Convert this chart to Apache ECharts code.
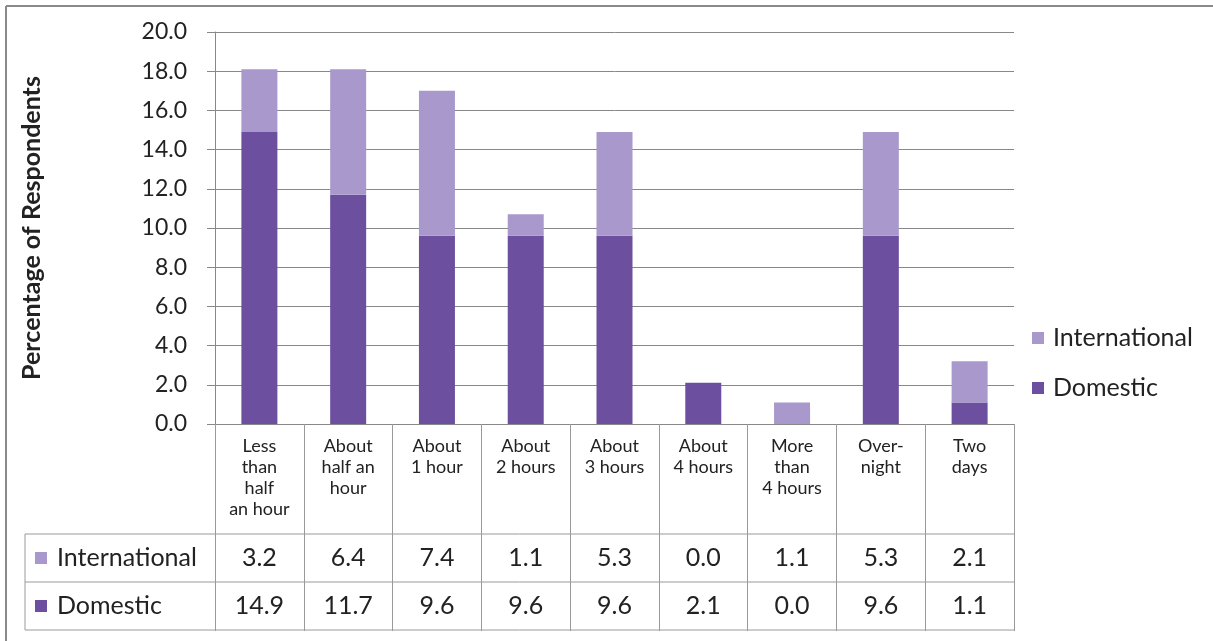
<!DOCTYPE html>
<html>
<head>
<meta charset="utf-8">
<script src="https://cdn.jsdelivr.net/npm/echarts@6/dist/echarts.min.js"></script>
<style>
html,body{margin:0;padding:0;background:#fff;}
#chart{width:1213px;height:641px;}
</style>
</head>
<body>
<div id="chart"></div>
<script>
const categories = ['Less\nthan\nhalf\nan hour','About\nhalf an\nhour','About\n1 hour','About\n2 hours','About\n3 hours','About\n4 hours','More\nthan\n4 hours','Over-\nnight','Two\ndays'];
const international = [3.2, 6.4, 7.4, 1.1, 5.3, 0.0, 1.1, 5.3, 2.1];
const domestic = [14.9, 11.7, 9.6, 9.6, 9.6, 2.1, 0.0, 9.6, 1.1];
const seriesNames = ['International', 'Domestic'];
const yTicks = [0, 2, 4, 6, 8, 10, 12, 14, 16, 18, 20];

const colIntl = '#A898CB';
const colDom = '#6C4F9E';
const FONT = 'Lato, "Open Sans", sans-serif';
const lineCol = '#9a9a9a';

const gridLeft = 215, gridRight = 1014, gridTop = 32, gridBottom = 424;
const row1 = 534, row2 = 582, row3 = 630, tableLeft = 25;

const chart = echarts.init(document.getElementById('chart'));

const baseX = {
  type: 'category',
  data: categories,
  position: 'bottom',
  axisLine: { show: false },
  axisTick: { show: false },
  splitLine: { show: false }
};

const option = {
  animation: false,
  textStyle: { fontFamily: FONT },
  grid: { left: gridLeft, right: 1213 - gridRight, top: gridTop, bottom: 641 - gridBottom, containLabel: false },
  legend: {
    data: seriesNames,
    orient: 'vertical',
    left: 1027,
    top: 319,
    itemWidth: 12,
    itemHeight: 12,
    itemGap: 22,
    icon: 'rect',
    textStyle: { fontSize: 25, lineHeight: 28, color: '#222', fontFamily: FONT, padding: [0, 0, 0, 4] }
  },
  xAxis: [
    Object.assign({}, baseX, {
      axisLine: { show: true, lineStyle: { color: '#888', width: 1 } },
      axisTick: { show: true, inside: false, length: 207, alignWithLabel: false, lineStyle: { color: lineCol, width: 1 } },
      axisLabel: {
        interval: 0,
        margin: 12,
        fontSize: 18,
        lineHeight: 21,
        color: '#222',
        fontFamily: FONT,
        verticalAlign: 'top'
      }
    }),
    Object.assign({}, baseX, {
      offset: row1 - gridBottom,
      axisLabel: {
        interval: 0, margin: 24, fontSize: 25, color: '#222', fontFamily: FONT, verticalAlign: 'middle',
        formatter: (v, i) => international[i].toFixed(1)
      }
    }),
    Object.assign({}, baseX, {
      offset: row2 - gridBottom,
      axisLabel: {
        interval: 0, margin: 24, fontSize: 25, color: '#222', fontFamily: FONT, verticalAlign: 'middle',
        formatter: (v, i) => domestic[i].toFixed(1)
      }
    })
  ],
  yAxis: {
    type: 'value',
    min: yTicks[0],
    max: yTicks[yTicks.length - 1],
    interval: yTicks[1] - yTicks[0],
    name: 'Percentage of Respondents',
    nameLocation: 'middle',
    nameRotate: 90,
    nameGap: 171,
    nameTextStyle: { fontSize: 25, fontWeight: 'bold', color: '#222', fontFamily: FONT },
    axisLine: { show: true, lineStyle: { color: '#888', width: 1 } },
    axisTick: { show: true, inside: false, length: 8, lineStyle: { color: '#888' } },
    axisLabel: {
      margin: 28, fontSize: 23, color: '#222', fontFamily: FONT,
      formatter: v => v.toFixed(1)
    },
    splitLine: { show: true, lineStyle: { color: '#888', width: 1 } }
  },
  series: [
    {
      name: 'Domestic', type: 'bar', stack: 'total', xAxisIndex: 0, barWidth: 36,
      itemStyle: { color: colDom }, data: domestic
    },
    {
      name: 'International', type: 'bar', stack: 'total', xAxisIndex: 0, barWidth: 36,
      itemStyle: { color: colIntl }, data: international
    }
  ],
  graphic: [
    { type: 'line', shape: { x1: 6, y1: 6, x2: 1213, y2: 6 }, style: { stroke: '#8a8a8a', lineWidth: 2 } },
    { type: 'line', shape: { x1: 6, y1: 6, x2: 6, y2: 641 }, style: { stroke: '#8a8a8a', lineWidth: 2 } },
    { type: 'line', shape: { x1: tableLeft, y1: row1, x2: gridRight, y2: row1 }, style: { stroke: lineCol, lineWidth: 1 } },
    { type: 'line', shape: { x1: tableLeft, y1: row2, x2: gridRight, y2: row2 }, style: { stroke: lineCol, lineWidth: 1 } },
    { type: 'line', shape: { x1: tableLeft, y1: row3, x2: gridRight, y2: row3 }, style: { stroke: lineCol, lineWidth: 1 } },
    { type: 'line', shape: { x1: tableLeft, y1: row1, x2: tableLeft, y2: row3 }, style: { stroke: lineCol, lineWidth: 1 } },
    { type: 'rect', shape: { x: 35, y: (row1 + row2) / 2 - 6, width: 12, height: 12 }, style: { fill: colIntl } },
    { type: 'text', x: 57, y: (row1 + row2) / 2, style: { text: seriesNames[0], font: '25px ' + FONT, fill: '#222', verticalAlign: 'middle' } },
    { type: 'rect', shape: { x: 35, y: (row2 + row3) / 2 - 6, width: 12, height: 12 }, style: { fill: colDom } },
    { type: 'text', x: 57, y: (row2 + row3) / 2, style: { text: seriesNames[1], font: '25px ' + FONT, fill: '#222', verticalAlign: 'middle' } }
  ]
};
chart.setOption(option);
</script>
</body>
</html>
